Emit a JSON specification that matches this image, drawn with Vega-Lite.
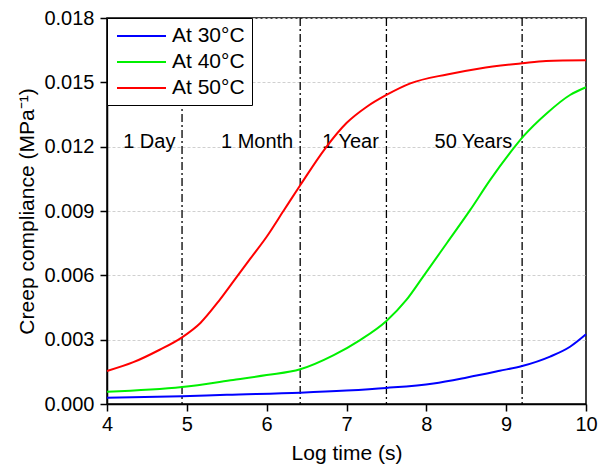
{
  "$schema": "https://vega.github.io/schema/vega-lite/v6.json",
  "width": 479,
  "height": 386,
  "autosize": {"type": "none"},
  "padding": {"left": 107, "top": 18, "right": 12, "bottom": 61},
  "background": "white",
  "config": {
    "font": "Liberation Sans",
    "view": {"stroke": "black", "strokeWidth": 1.5},
    "axis": {
      "labelFont": "Liberation Sans",
      "titleFont": "Liberation Sans",
      "labelFontSize": 20,
      "titleFontSize": 21,
      "titleFontWeight": "normal",
      "labelColor": "black",
      "titleColor": "black",
      "domainColor": "black",
      "domainWidth": 1.5,
      "tickColor": "black",
      "tickWidth": 1.5,
      "tickSize": 7,
      "labelFlush": false,
      "labelOverlap": false
    }
  },
  "datasets": {
    "curves": [
      {"logt": 4.0, "J": 0.00029, "series": "At 30°C"},
      {"logt": 4.94, "J": 0.00036, "series": "At 30°C"},
      {"logt": 5.5, "J": 0.00043, "series": "At 30°C"},
      {"logt": 6.42, "J": 0.00053, "series": "At 30°C"},
      {"logt": 7.0, "J": 0.00063, "series": "At 30°C"},
      {"logt": 7.5, "J": 0.00075, "series": "At 30°C"},
      {"logt": 8.09, "J": 0.00096, "series": "At 30°C"},
      {"logt": 8.51, "J": 0.00124, "series": "At 30°C"},
      {"logt": 8.92, "J": 0.00155, "series": "At 30°C"},
      {"logt": 9.2, "J": 0.00177, "series": "At 30°C"},
      {"logt": 9.55, "J": 0.00221, "series": "At 30°C"},
      {"logt": 9.8, "J": 0.00267, "series": "At 30°C"},
      {"logt": 10.0, "J": 0.00325, "series": "At 30°C"},

      {"logt": 4.0, "J": 0.00057, "series": "At 40°C"},
      {"logt": 4.94, "J": 0.00079, "series": "At 40°C"},
      {"logt": 5.58, "J": 0.00112, "series": "At 40°C"},
      {"logt": 6.0, "J": 0.00135, "series": "At 40°C"},
      {"logt": 6.42, "J": 0.00162, "series": "At 40°C"},
      {"logt": 6.84, "J": 0.00228, "series": "At 40°C"},
      {"logt": 7.17, "J": 0.00298, "series": "At 40°C"},
      {"logt": 7.5, "J": 0.00387, "series": "At 40°C"},
      {"logt": 7.75, "J": 0.00485, "series": "At 40°C"},
      {"logt": 7.96, "J": 0.00594, "series": "At 40°C"},
      {"logt": 8.26, "J": 0.00752, "series": "At 40°C"},
      {"logt": 8.55, "J": 0.00905, "series": "At 40°C"},
      {"logt": 8.8, "J": 0.01045, "series": "At 40°C"},
      {"logt": 9.05, "J": 0.01172, "series": "At 40°C"},
      {"logt": 9.22, "J": 0.01250, "series": "At 40°C"},
      {"logt": 9.51, "J": 0.01356, "series": "At 40°C"},
      {"logt": 9.8, "J": 0.01441, "series": "At 40°C"},
      {"logt": 10.0, "J": 0.01477, "series": "At 40°C"},

      {"logt": 4.0, "J": 0.00154, "series": "At 50°C"},
      {"logt": 4.33, "J": 0.00195, "series": "At 50°C"},
      {"logt": 4.66, "J": 0.00253, "series": "At 50°C"},
      {"logt": 4.94, "J": 0.00311, "series": "At 50°C"},
      {"logt": 5.17, "J": 0.00378, "series": "At 50°C"},
      {"logt": 5.4, "J": 0.0048, "series": "At 50°C"},
      {"logt": 5.6, "J": 0.0058, "series": "At 50°C"},
      {"logt": 5.8, "J": 0.0068, "series": "At 50°C"},
      {"logt": 6.0, "J": 0.0078, "series": "At 50°C"},
      {"logt": 6.21, "J": 0.009, "series": "At 50°C"},
      {"logt": 6.42, "J": 0.0102, "series": "At 50°C"},
      {"logt": 6.73, "J": 0.0119, "series": "At 50°C"},
      {"logt": 7.0, "J": 0.0131, "series": "At 50°C"},
      {"logt": 7.25, "J": 0.01385, "series": "At 50°C"},
      {"logt": 7.5, "J": 0.01441, "series": "At 50°C"},
      {"logt": 7.8, "J": 0.01495, "series": "At 50°C"},
      {"logt": 8.26, "J": 0.01537, "series": "At 50°C"},
      {"logt": 8.67, "J": 0.01565, "series": "At 50°C"},
      {"logt": 9.2, "J": 0.01589, "series": "At 50°C"},
      {"logt": 9.5, "J": 0.016, "series": "At 50°C"},
      {"logt": 10.0, "J": 0.01603, "series": "At 50°C"}
    ],
    "periods": [
      {"logt": 4.94, "period": "1 Day", "labelAt": 4.53},
      {"logt": 6.42, "period": "1 Month", "labelAt": 5.88},
      {"logt": 7.5, "period": "1 Year", "labelAt": 7.05},
      {"logt": 9.2, "period": "50 Years", "labelAt": 8.59}
    ]
  },
  "layer": [
    {
      "data": {"name": "periods"},
      "mark": {"type": "rule", "color": "black", "strokeWidth": 1.3, "strokeDash": [8, 3, 2, 3]},
      "encoding": {
        "x": {"field": "logt", "type": "quantitative", "scale": {"domain": [4, 10]}}
      }
    },
    {
      "data": {"name": "periods"},
      "mark": {"type": "text", "fontSize": 20, "baseline": "alphabetic", "align": "center", "color": "black"},
      "encoding": {
        "x": {"field": "labelAt", "type": "quantitative"},
        "y": {"datum": 0.01194},
        "text": {"field": "period"}
      }
    },
    {
      "data": {"name": "curves"},
      "mark": {"type": "line", "strokeWidth": 2, "interpolate": "monotone"},
      "encoding": {
        "x": {
          "field": "logt",
          "type": "quantitative",
          "scale": {"domain": [4, 10], "nice": false, "zero": false},
          "axis": {
            "title": "Log time (s)",
            "values": [4, 5, 6, 7, 8, 9, 10],
            "format": "d",
            "grid": false,
            "labelPadding": 3,
            "titleY": 55,
            "titleBaseline": "alphabetic"
          }
        },
        "y": {
          "field": "J",
          "type": "quantitative",
          "scale": {"domain": [0, 0.018], "nice": false},
          "axis": {
            "title": "Creep compliance (MPa⁻¹)",
            "values": [0, 0.003, 0.006, 0.009, 0.012, 0.015, 0.018],
            "format": ".3f",
            "grid": true,
            "gridColor": "#d0d0d0",
            "gridDash": [3, 2],
            "gridWidth": 1,
            "labelPadding": 6,
            "titleAngle": 270,
            "titleX": -74,
            "titleY": 193,
            "titleAlign": "center",
            "titleBaseline": "alphabetic"
          }
        },
        "color": {
          "field": "series",
          "type": "nominal",
          "scale": {"domain": ["At 30°C", "At 40°C", "At 50°C"], "range": ["#0000ff", "#00f000", "#ff0000"]},
          "legend": {
            "title": null,
            "orient": "top-left",
            "offset": 0,
            "padding": 7,
            "strokeColor": "black",
            "fillColor": "white",
            "symbolType": "M-0.8,0H4.1",
            "symbolSize": 400,
            "symbolStrokeWidth": 2,
            "labelFontSize": 21,
            "labelFont": "Liberation Sans",
            "labelColor": "black",
            "labelOffset": 36,
            "rowPadding": 5
          }
        }
      }
    }
  ]
}
